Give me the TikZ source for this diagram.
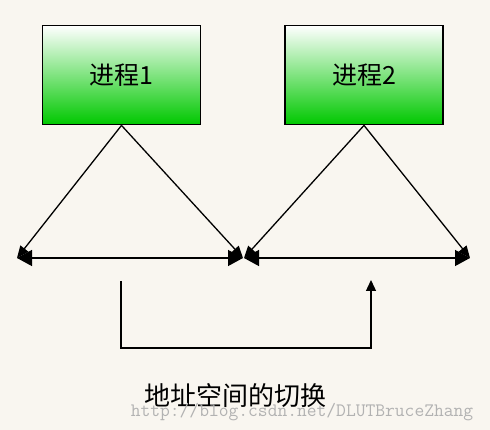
\documentclass[tikz,border=0pt]{standalone}
\usepackage{fontspec}
\usepackage{tikz}
\usetikzlibrary{arrows.meta}
\newfontfamily\cjk{Noto Sans CJK SC}
\definecolor{paper}{RGB}{249,246,240}
\definecolor{procgreen}{RGB}{0,200,0}

\begin{document}
\begin{tikzpicture}[x=1pt, y=-1pt, >={Triangle[length=15pt,width=16pt]}, line width=1.3pt, proc/.style={draw, line width=1.8pt, top color=white, bottom color=procgreen, minimum width=158pt, minimum height=99pt, inner sep=0pt, font=\cjk\fontsize{25}{28}\selectfont}]
	\fill[paper] (0,0) rectangle (490,430);
	\node[proc] (p1) at (121.5,75) {进程1};
	\node[proc] (p2) at (364,75) {进程2};
	\coordinate (l1) at (17,258);
	\coordinate (r1) at (243,258);
	\coordinate (l2) at (244,258);
	\coordinate (r2) at (470,258);
	\draw[<->] (l1) -- (r1);
	\draw[<->] (l2) -- (r2);
	\foreach \p/\a/\b in {p1/l1/r1, p2/l2/r2} {
		\draw[->, >={Triangle[length=12pt,width=10pt]}] (\p.south) -- (\a);
		\draw[->, >={Triangle[length=12pt,width=10pt]}] (\p.south) -- (\b);
	}
	\coordinate (s1) at (121,281);
	\coordinate (s2) at (371,280);
	\draw[->, >={Triangle[length=11pt,width=10pt]}] (s1) -- ++(0,67) -| (s2);
	\node[font=\cjk\fontsize{26}{28}\selectfont] (cap) at (235,396) {地址空间的切换};
	\node[font=\ttfamily\fontsize{19}{22}\selectfont, text=black!30] (mark) at (302,412) {http://blog.csdn.net/DLUTBruceZhang};
\end{tikzpicture}
\end{document}
